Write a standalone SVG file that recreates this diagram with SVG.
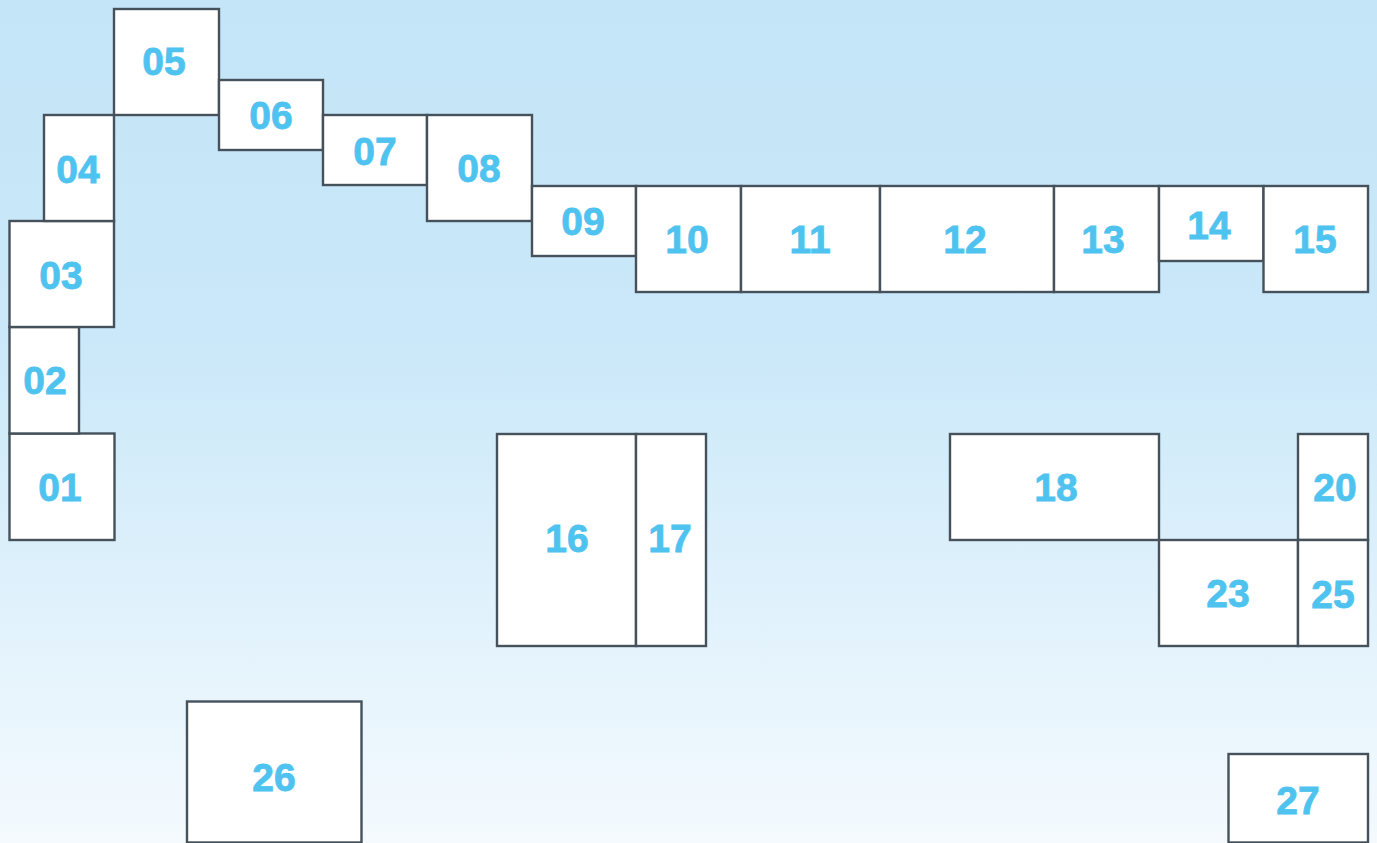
<svg xmlns="http://www.w3.org/2000/svg" width="1377" height="843" viewBox="0 0 1377 843">
<defs>
<linearGradient id="bg" x1="0" y1="0" x2="0" y2="1">
<stop offset="0" stop-color="#c4e5f8"/>
<stop offset="0.4" stop-color="#cae8f9"/>
<stop offset="1" stop-color="#f4fafe"/>
</linearGradient>
</defs>
<style>
.r{fill:#ffffff;stroke:#45525b;stroke-width:2.4;stroke-linejoin:miter}
.t{fill:#4fc3ef;font-family:"Liberation Sans",Arial,sans-serif;font-weight:bold;font-size:39px;text-anchor:middle;stroke:#4fc3ef;stroke-width:0.8}
</style>
<rect x="0" y="0" width="1377" height="843" fill="url(#bg)"/>
<g id="connectors"></g>
<g id="n01"><rect class="r" x="9.5" y="433.5" width="105" height="106.5"/><text class="t" x="60" y="501">01</text></g>
<g id="n02"><rect class="r" x="9.5" y="327" width="69.5" height="106.5"/><text class="t" x="45" y="394">02</text></g>
<g id="n03"><rect class="r" x="9.5" y="221" width="104.5" height="106"/><text class="t" x="61" y="289">03</text></g>
<g id="n04"><rect class="r" x="44" y="115" width="70" height="106"/><text class="t" x="78" y="183">04</text></g>
<g id="n05"><rect class="r" x="114" y="9" width="105" height="106"/><text class="t" x="164" y="75">05</text></g>
<g id="n06"><rect class="r" x="219" y="80" width="104" height="70"/><text class="t" x="271" y="129">06</text></g>
<g id="n07"><rect class="r" x="323" y="115" width="104" height="70"/><text class="t" x="375" y="165">07</text></g>
<g id="n08"><rect class="r" x="427" y="115" width="105" height="106"/><text class="t" x="479" y="182">08</text></g>
<g id="n09"><rect class="r" x="532" y="186" width="104" height="70"/><text class="t" x="583" y="235">09</text></g>
<g id="n10"><rect class="r" x="636" y="186" width="105" height="106"/><text class="t" x="687" y="253">10</text></g>
<g id="n11"><rect class="r" x="741" y="186" width="139" height="106"/><text class="t" x="810" y="253">11</text></g>
<g id="n12"><rect class="r" x="880" y="186" width="174" height="106"/><text class="t" x="965" y="253">12</text></g>
<g id="n13"><rect class="r" x="1054" y="186" width="105" height="106"/><text class="t" x="1103" y="253">13</text></g>
<g id="n14"><rect class="r" x="1159" y="186" width="104.5" height="75"/><text class="t" x="1209" y="239">14</text></g>
<g id="n15"><rect class="r" x="1263.5" y="186" width="104.5" height="106"/><text class="t" x="1315" y="253">15</text></g>
<g id="n16"><rect class="r" x="497" y="434" width="139" height="212"/><text class="t" x="567" y="552">16</text></g>
<g id="n17"><rect class="r" x="636" y="434" width="70" height="212"/><text class="t" x="670" y="552">17</text></g>
<g id="n18"><rect class="r" x="950" y="434" width="209" height="106"/><text class="t" x="1056" y="501">18</text></g>
<g id="n20"><rect class="r" x="1298" y="434" width="70" height="106"/><text class="t" x="1335" y="501">20</text></g>
<g id="n23"><rect class="r" x="1159" y="540" width="139" height="106"/><text class="t" x="1228" y="607">23</text></g>
<g id="n25"><rect class="r" x="1298" y="540" width="70" height="106"/><text class="t" x="1333" y="608">25</text></g>
<g id="n26"><rect class="r" x="187" y="701.5" width="174.5" height="141"/><text class="t" x="274" y="791">26</text></g>
<g id="n27"><rect class="r" x="1228.5" y="754" width="139.5" height="88.5"/><text class="t" x="1298" y="814">27</text></g>
</svg>
